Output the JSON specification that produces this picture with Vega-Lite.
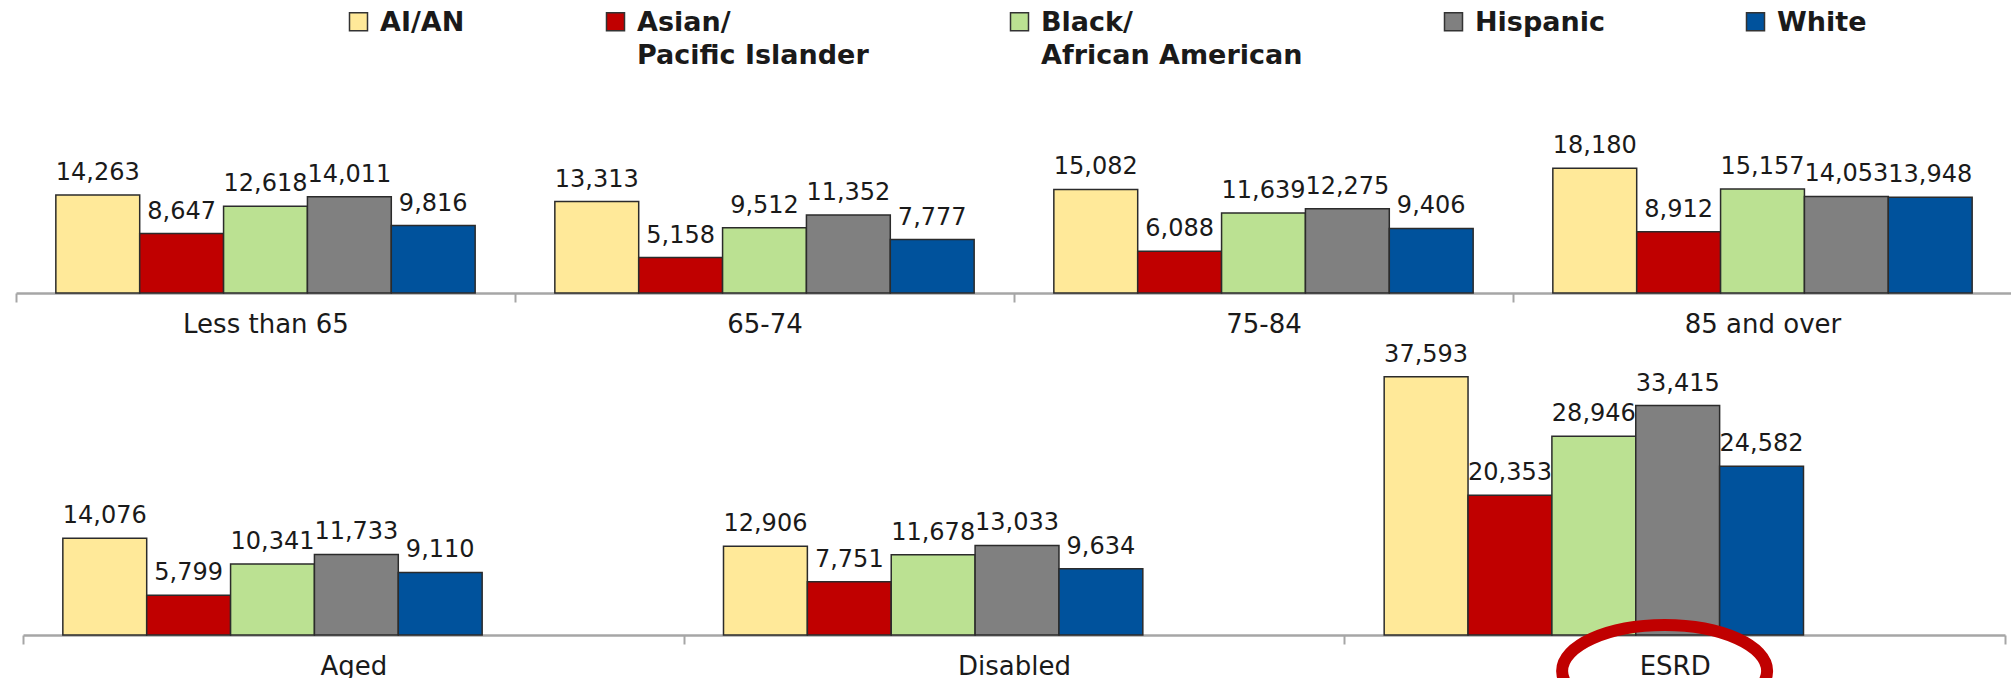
{
  "$schema": "https://vega.github.io/schema/vega-lite/v6.json",
  "background": "white",
  "padding": {"left": 15, "top": 0, "right": 0, "bottom": 0},
  "center": true,
  "spacing": 5,
  "config": {
    "view": {"stroke": null},
    "font": "DejaVu Sans",
    "axis": {
      "title": null,
      "labelAngle": 0,
      "domainColor": "#A6A6A6",
      "domainWidth": 2.5,
      "tickColor": "#A6A6A6",
      "tickWidth": 2,
      "tickSize": 9,
      "tickBand": "extent",
      "labelFont": "DejaVu Sans",
      "labelFontSize": 26,
      "labelFontWeight": "normal",
      "labelColor": "#1a1a1a",
      "labelPadding": 9,
      "grid": false
    },
    "legend": {
      "orient": "none",
      "legendX": 329,
      "legendY": 8,
      "direction": "horizontal",
      "title": null,
      "symbolType": "square",
      "symbolSize": 324,
      "symbolStrokeColor": "#333333",
      "symbolStrokeWidth": 1.5,
      "symbolOpacity": 1,
      "labelFont": "DejaVu Sans",
      "labelFontSize": 27,
      "labelFontWeight": "bold",
      "labelColor": "#1a1a1a",
      "labelOffset": 8,
      "labelLimit": 500,
      "columnPadding": 137,
      "labelBaseline": "alphabetic"
    }
  },
  "datasets": {
    "age": [
      {"group": "Less than 65", "race": "AI/AN", "cost": 14263},
      {"group": "Less than 65", "race": "Asian/ Pacific Islander", "cost": 8647},
      {"group": "Less than 65", "race": "Black/ African American", "cost": 12618},
      {"group": "Less than 65", "race": "Hispanic", "cost": 14011},
      {"group": "Less than 65", "race": "White", "cost": 9816},
      {"group": "65-74", "race": "AI/AN", "cost": 13313},
      {"group": "65-74", "race": "Asian/ Pacific Islander", "cost": 5158},
      {"group": "65-74", "race": "Black/ African American", "cost": 9512},
      {"group": "65-74", "race": "Hispanic", "cost": 11352},
      {"group": "65-74", "race": "White", "cost": 7777},
      {"group": "75-84", "race": "AI/AN", "cost": 15082},
      {"group": "75-84", "race": "Asian/ Pacific Islander", "cost": 6088},
      {"group": "75-84", "race": "Black/ African American", "cost": 11639},
      {"group": "75-84", "race": "Hispanic", "cost": 12275},
      {"group": "75-84", "race": "White", "cost": 9406},
      {"group": "85 and over", "race": "AI/AN", "cost": 18180},
      {"group": "85 and over", "race": "Asian/ Pacific Islander", "cost": 8912},
      {"group": "85 and over", "race": "Black/ African American", "cost": 15157},
      {"group": "85 and over", "race": "Hispanic", "cost": 14053},
      {"group": "85 and over", "race": "White", "cost": 13948}
    ],
    "status": [
      {"group": "Aged", "race": "AI/AN", "cost": 14076},
      {"group": "Aged", "race": "Asian/ Pacific Islander", "cost": 5799},
      {"group": "Aged", "race": "Black/ African American", "cost": 10341},
      {"group": "Aged", "race": "Hispanic", "cost": 11733},
      {"group": "Aged", "race": "White", "cost": 9110},
      {"group": "Disabled", "race": "AI/AN", "cost": 12906},
      {"group": "Disabled", "race": "Asian/ Pacific Islander", "cost": 7751},
      {"group": "Disabled", "race": "Black/ African American", "cost": 11678},
      {"group": "Disabled", "race": "Hispanic", "cost": 13033},
      {"group": "Disabled", "race": "White", "cost": 9634},
      {"group": "ESRD", "race": "AI/AN", "cost": 37593},
      {"group": "ESRD", "race": "Asian/ Pacific Islander", "cost": 20353},
      {"group": "ESRD", "race": "Black/ African American", "cost": 28946},
      {"group": "ESRD", "race": "Hispanic", "cost": 33415},
      {"group": "ESRD", "race": "White", "cost": 24582}
    ],
    "highlight": [
      {"group": "ESRD"}
    ]
  },
  "vconcat": [
    {
      "width": 1996,
      "height": 293,
      "data": {"name": "age"},
      "encoding": {
        "x": {"field": "group", "type": "nominal", "sort": ["Less than 65", "65-74", "75-84", "85 and over"], "scale": {"paddingInner": 0, "paddingOuter": 0}},
        "xOffset": {"field": "race", "type": "nominal", "sort": ["AI/AN", "Asian/ Pacific Islander", "Black/ African American", "Hispanic", "White"], "scale": {"paddingInner": 0, "paddingOuter": 0.475}},
        "y": {"field": "cost", "type": "quantitative", "scale": {"domain": [0, 42660], "nice": false, "zero": true}, "axis": null}
      },
      "layer": [
        {
          "mark": {"type": "bar", "stroke": "#2b2b2b", "strokeWidth": 1.5},
          "encoding": {
            "color": {
              "field": "race", "type": "nominal",
              "scale": {"domain": ["AI/AN", "Asian/ Pacific Islander", "Black/ African American", "Hispanic", "White"], "range": ["#FFE999", "#C00000", "#BBE192", "#808080", "#00529C"]},
              "legend": {
                "labelExpr": "indexof(datum.label, '/ ') > 0 ? [slice(datum.label, 0, indexof(datum.label, '/ ') + 1), slice(datum.label, indexof(datum.label, '/ ') + 2)] : [datum.label, '']",
                "encode": {"labels": {"update": {"dy": {"value": 9}, "lineHeight": {"value": 33}}}}
              }
            }
          }
        },
        {
          "mark": {"type": "text", "baseline": "alphabetic", "dy": -15, "fontSize": 24, "font": "DejaVu Sans", "color": "#1a1a1a"},
          "encoding": {"text": {"field": "cost", "type": "quantitative", "format": ",d"}}
        }
      ]
    },
    {
      "width": 1982,
      "height": 290,
      "layer": [
        {
          "data": {"name": "status"},
          "mark": {"type": "bar", "stroke": "#2b2b2b", "strokeWidth": 1.5},
          "encoding": {
            "x": {"field": "group", "type": "nominal", "sort": ["Aged", "Disabled", "ESRD"], "scale": {"paddingInner": 0, "paddingOuter": 0}},
            "xOffset": {"field": "race", "type": "nominal", "sort": ["AI/AN", "Asian/ Pacific Islander", "Black/ African American", "Hispanic", "White"], "scale": {"paddingInner": 0, "paddingOuter": 0.475}},
            "y": {"field": "cost", "type": "quantitative", "scale": {"domain": [0, 42224], "nice": false, "zero": true}, "axis": null},
            "color": {
              "field": "race", "type": "nominal",
              "scale": {"domain": ["AI/AN", "Asian/ Pacific Islander", "Black/ African American", "Hispanic", "White"], "range": ["#FFE999", "#C00000", "#BBE192", "#808080", "#00529C"]},
              "legend": {
                "labelExpr": "indexof(datum.label, '/ ') > 0 ? [slice(datum.label, 0, indexof(datum.label, '/ ') + 1), slice(datum.label, indexof(datum.label, '/ ') + 2)] : [datum.label, '']",
                "encode": {"labels": {"update": {"dy": {"value": 9}, "lineHeight": {"value": 33}}}}
              }
            }
          }
        },
        {
          "data": {"name": "status"},
          "mark": {"type": "text", "baseline": "alphabetic", "dy": -15, "fontSize": 24, "font": "DejaVu Sans", "color": "#1a1a1a"},
          "encoding": {
            "x": {"field": "group", "type": "nominal", "sort": ["Aged", "Disabled", "ESRD"]},
            "xOffset": {"field": "race", "type": "nominal", "sort": ["AI/AN", "Asian/ Pacific Islander", "Black/ African American", "Hispanic", "White"]},
            "y": {"field": "cost", "type": "quantitative"},
            "text": {"field": "cost", "type": "quantitative", "format": ",d"}
          }
        },
        {
          "data": {"name": "highlight"},
          "mark": {
            "type": "point",
            "shape": "M-1.098,0.351 A1,0.449 0 1,1 0.902,0.351 A1,0.449 0 1,1 -1.098,0.351 Z",
            "filled": false, "stroke": "#C00000", "strokeWidth": 12, "size": 42025, "opacity": 1
          },
          "encoding": {
            "x": {"field": "group", "type": "nominal", "sort": ["Aged", "Disabled", "ESRD"]},
            "y": {"datum": 0, "type": "quantitative"}
          }
        }
      ]
    }
  ]
}
